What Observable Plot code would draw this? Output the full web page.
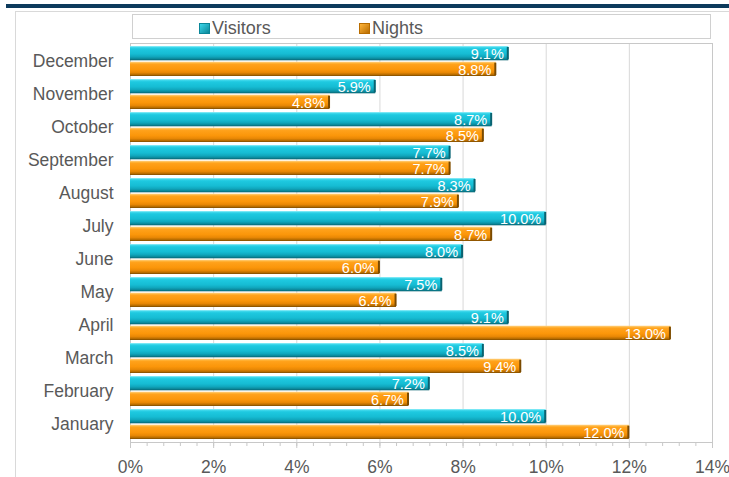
<!DOCTYPE html>
<html><head><meta charset="utf-8">
<script src="https://cdn.jsdelivr.net/npm/d3@7"></script>
<script src="https://cdn.jsdelivr.net/npm/@observablehq/plot@0.6"></script>
<style>
body{margin:0;background:#fff;font-family:"Liberation Sans",Arial,sans-serif;}
#wrap{position:relative;width:729px;height:477px;overflow:hidden;background:#fff;}
#topbar{position:absolute;left:6px;right:0;top:4px;height:4px;background:#0d3a5c;}
#frame{position:absolute;left:15px;top:11px;width:760px;height:500px;border:1px solid #d9d9d9;}
#chart{position:absolute;left:0;top:0;}
#legend{position:absolute;left:132px;top:14px;width:577px;height:23px;border:1px solid #d0d0d0;background:#fff;}
.item{position:absolute;top:2px;height:23px;line-height:23px;font-size:18px;color:#595959;white-space:nowrap;}
.sw{display:inline-block;width:9px;height:9px;margin-right:2px;vertical-align:0px;}
</style></head>
<body>
<div id="wrap">
  <div id="topbar"></div>
  <div id="frame"></div>
  <div id="chart"></div>
  <div id="legend"></div>
</div>
<script>
const months = ["January","February","March","April","May","June","July","August","September","October","November","December"];
const visitors = [10.0, 7.2, 8.5, 9.1, 7.5, 8.0, 10.0, 8.3, 7.7, 8.7, 5.9, 9.1];
const nights = [12.0, 6.7, 9.4, 13.0, 6.4, 6.0, 8.7, 7.9, 7.7, 8.5, 4.8, 8.8];
const seriesNames = ["Visitors", "Nights"];
const xTicks = [0, 2, 4, 6, 8, 10, 12, 14];
const minorTicks = d3.range(0, 141, 4).map(v => v / 10);

const data = months.map((m, i) => ({month: m, visitors: visitors[i], nights: nights[i]}));

const half = 15.7;
const svg = Plot.plot({
  width: 729,
  height: 477,
  marginTop: 43,
  marginBottom: 35,
  marginLeft: 130,
  marginRight: 17,
  style: {fontFamily: "Liberation Sans, Arial, sans-serif", fontSize: "17px", color: "#595959", background: "transparent"},
  x: {domain: [0, 14], axis: null},
  y: {type: "band", domain: months.slice().reverse(), paddingInner: 0.105, paddingOuter: 0.057, axis: null},
  marks: [
    Plot.gridX(xTicks, {stroke: "#d9d9d9", strokeOpacity: 1}),
    Plot.frame({stroke: "#c8c8c8"}),
    Plot.barX(data, {x: "visitors", y: "month", fill: "url(#gV)", insetBottom: half}),
    Plot.barX(data, {x: "nights", y: "month", fill: "url(#gN)", insetTop: half}),
    Plot.tickX(data, {x: "visitors", y: "month", stroke: "#0a6270", strokeWidth: 2, dx: -1, insetBottom: half + 1, insetTop: 1}),
    Plot.tickX(data, {x: "nights", y: "month", stroke: "#7a4a00", strokeWidth: 2, dx: -1, insetTop: half + 1, insetBottom: 1}),
    Plot.text(data, {x: "visitors", y: "month", text: d => d.visitors.toFixed(1) + "%", textAnchor: "end", dx: -5, dy: -6.8, fill: "white", fontSize: 14.5}),
    Plot.text(data, {x: "nights", y: "month", text: d => d.nights.toFixed(1) + "%", textAnchor: "end", dx: -5, dy: 8.8, fill: "white", fontSize: 14.5}),
    Plot.axisX(minorTicks, {tickSize: 4, stroke: "#c8c8c8", tickFormat: () => "", label: null}),
    Plot.axisX(xTicks, {tickSize: 6, stroke: "#c8c8c8", fill: "#595959", tickPadding: 12, tickFormat: d => d + "%", fontSize: 17.5, label: null}),
    Plot.axisY({tickSize: 0, tickPadding: 17, fill: "#595959", fontSize: 17.5, label: null})
  ]
});

const defs = d3.select(svg).insert("defs", ":first-child");
function grad(id, stops) {
  const g = defs.append("linearGradient").attr("id", id).attr("x1", 0).attr("y1", 0).attr("x2", 0).attr("y2", 1);
  stops.forEach(([o, c]) => g.append("stop").attr("offset", o).attr("stop-color", c));
}
grad("gV", [[0, "#9af0fa"], [0.1, "#3cd6ea"], [0.2, "#1ec9e0"], [0.55, "#16bcd3"], [0.75, "#10a6bc"], [0.9, "#0b8799"], [1, "#06606d"]]);
grad("gN", [[0, "#ffd690"], [0.1, "#ffb43a"], [0.2, "#ffa11a"], [0.55, "#fb960a"], [0.75, "#e98805"], [0.9, "#b96d00"], [1, "#7c4b00"]]);
document.getElementById("chart").appendChild(svg);

const legendColors = {Visitors: ["#3cd6ea", "#0b8799"], Nights: ["#ffb43a", "#b96d00"]};
const legendX = [66, 226];
const leg = document.getElementById("legend");
seriesNames.forEach((s, i) => {
  const it = document.createElement("div");
  it.className = "item";
  it.style.left = legendX[i] + "px";
  const sw = document.createElement("span");
  sw.className = "sw";
  sw.style.background = `linear-gradient(135deg, ${legendColors[s][0]}, ${legendColors[s][1]})`;
  sw.style.border = `1px solid ${legendColors[s][1]}`;
  it.appendChild(sw);
  it.appendChild(document.createTextNode(s));
  leg.appendChild(it);
});
</script>
</body></html>
